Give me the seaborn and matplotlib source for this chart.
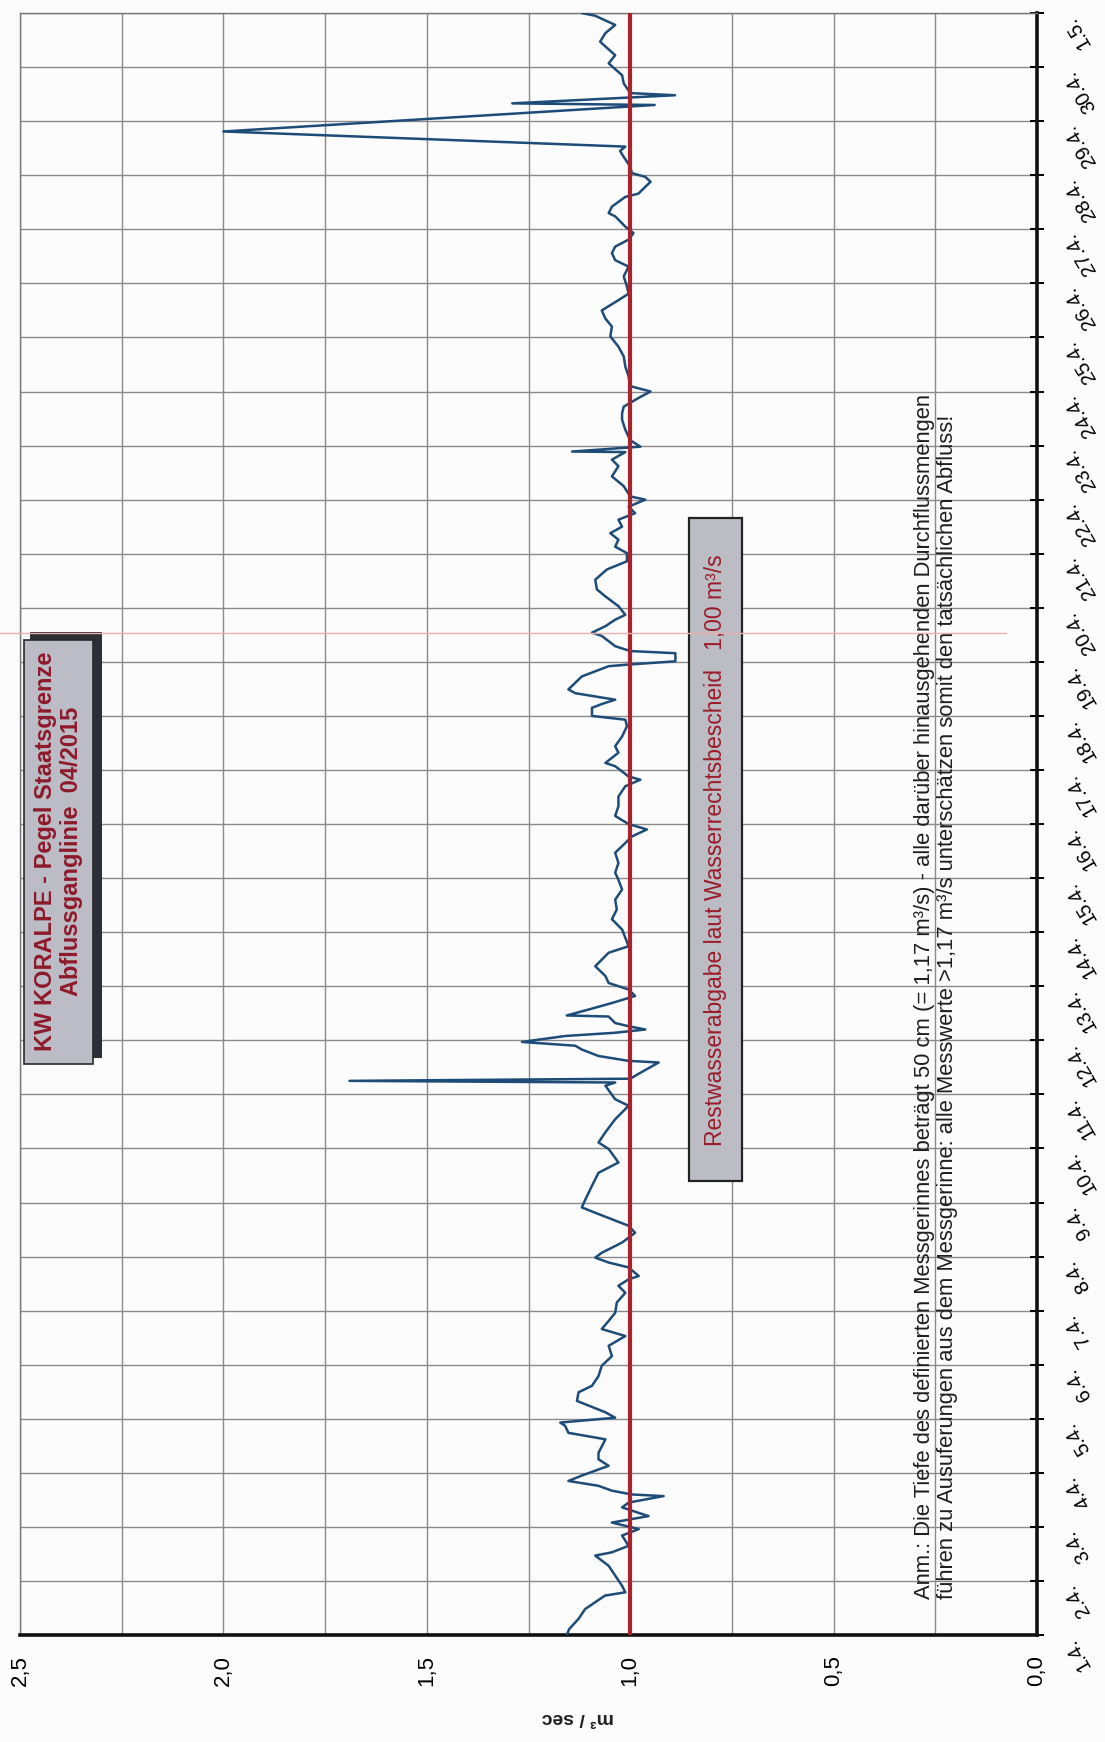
import matplotlib
matplotlib.use("Agg")
import matplotlib.pyplot as plt
import seaborn as sns
import pandas as pd
import numpy as np
from matplotlib.patches import Rectangle
from matplotlib.lines import Line2D

# ---------------- data ----------------
day_offsets = [
    0.00, 0.11, 0.30, 0.48, 0.73, 0.79, 0.91, 1.10, 1.28, 1.47, 1.53, 1.65, 1.84, 1.96,
    2.08, 2.20, 2.36, 2.45, 2.57, 2.60, 2.67, 2.76, 2.85, 2.95, 3.13, 3.25, 3.37, 3.62,
    3.74, 3.87, 3.93, 4.02, 4.12, 4.33, 4.49, 4.61, 4.79, 4.98, 5.16, 5.35, 5.53, 5.66,
    5.81, 5.96, 6.15, 6.33, 6.46, 6.58, 6.64, 6.80, 6.89, 6.98, 7.07, 7.26, 7.44, 7.57,
    7.81, 7.91, 8.06, 8.31, 8.55, 8.74, 8.99, 9.11, 9.30, 9.54, 9.79, 9.91, 10.16, 10.22,
    10.25, 10.29, 10.40, 10.59, 10.62, 10.71, 10.83, 10.90, 10.97, 11.08, 11.14, 11.20,
    11.26, 11.32, 11.44, 11.46, 11.57, 11.69, 11.82, 11.94, 12.06, 12.19, 12.37, 12.62,
    12.74, 13.05, 13.24, 13.42, 13.60, 13.79, 13.97, 14.10, 14.28, 14.47, 14.65, 14.77,
    14.90, 15.00, 15.15, 15.33, 15.51, 15.70, 15.82, 15.88, 16.07, 16.13, 16.32, 16.44,
    16.62, 16.81, 16.93, 17.00, 17.15, 17.22, 17.30, 17.42, 17.49, 17.73, 17.92, 17.95,
    18.01, 18.16, 18.20, 18.29, 18.48, 18.54, 18.66, 18.78, 18.87, 19.03, 19.21, 19.34,
    19.52, 19.71, 19.86, 20.01, 20.13, 20.26, 20.38, 20.50, 20.63, 20.75, 20.87, 21.00,
    21.06, 21.25, 21.43, 21.62, 21.74, 21.88, 21.89, 21.98, 22.10, 22.29, 22.48, 22.60,
    22.72, 22.88, 23.00, 23.10, 23.28, 23.46, 23.65, 23.83, 24.02, 24.20, 24.35, 24.50,
    24.69, 24.81, 24.94, 25.13, 25.31, 25.43, 25.56, 25.68, 25.81, 25.93, 26.05, 26.24,
    26.30, 26.42, 26.60, 26.66, 26.88, 26.97, 27.04, 27.16, 27.34, 27.45, 27.53, 27.81,
    28.30, 28.33, 28.48, 28.52, 28.70, 28.85, 29.07, 29.22, 29.47, 29.63, 29.78, 29.95,
    30.00,
]
flow_m3s = [
    1.156, 1.150, 1.127, 1.111, 1.062, 1.012, 1.020, 1.037, 1.053, 1.086, 1.045, 1.004, 1.020, 0.979,
    1.045, 0.955, 1.020, 1.004, 0.918, 0.996, 1.045, 1.078, 1.152, 1.119, 1.053, 1.078, 1.078, 1.061,
    1.152, 1.160, 1.172, 1.037, 1.061, 1.131, 1.127, 1.094, 1.078, 1.070, 1.045, 1.053, 1.012, 1.070,
    1.053, 1.037, 1.033, 1.012, 1.029, 1.004, 0.979, 1.004, 1.053, 1.086, 1.070, 1.020, 0.988, 1.004,
    1.086, 1.119, 1.110, 1.094, 1.078, 1.029, 1.053, 1.078, 1.061, 1.037, 1.004, 1.037, 1.061, 1.037,
    1.690, 1.000, 0.975, 0.930, 1.004, 1.078, 1.119, 1.135, 1.266, 1.160, 1.037, 0.963,
    1.004, 1.037, 1.053, 1.156, 1.102, 1.045, 0.988, 1.004, 1.053, 1.061, 1.086, 1.053,
    1.004, 1.020, 1.045, 1.033, 1.037, 1.020, 1.029, 1.037, 1.029, 1.037, 1.012, 0.996,
    0.959, 1.004, 1.037, 1.029, 1.029, 1.012, 0.975, 1.004, 1.037, 1.061, 1.029, 1.037,
    1.020, 1.008, 1.012, 1.094, 1.094, 1.070, 1.037, 1.135, 1.152, 1.119, 1.053, 1.004,
    0.889, 0.889, 1.000, 1.037, 1.070, 1.094, 1.061, 1.037, 1.012, 1.029, 1.061, 1.082,
    1.086, 1.057, 1.008, 1.008, 1.037, 1.029, 1.049, 1.020, 1.029, 0.988, 1.004, 0.963,
    1.000, 1.016, 1.045, 1.029, 1.045, 1.012, 1.143, 0.975, 1.000, 1.012, 1.020, 1.020,
    1.016, 0.980, 0.950, 1.000, 1.004, 1.012, 1.016, 1.029, 1.049, 1.045, 1.061, 1.070,
    1.029, 1.004, 1.008, 1.016, 1.004, 1.037, 1.045, 1.037, 1.004, 0.992, 1.012, 1.037,
    1.053, 1.045, 1.012, 0.980, 0.950, 0.963, 0.996, 1.000, 1.016, 1.025, 1.012, 2.000,
    0.940, 1.290, 0.890, 1.000, 1.016, 1.020, 1.053, 1.037, 1.074, 1.061, 1.037, 1.086,
    1.119,
]
date_ticks = list(range(31))
date_labels = ["1.4.", "2.4.", "3.4.", "4.4.", "5.4.", "6.4.", "7.4.", "8.4.", "9.4.", "10.4.",
               "11.4.", "12.4.", "13.4.", "14.4.", "15.4.", "16.4.", "17.4.", "18.4.", "19.4.",
               "20.4.", "21.4.", "22.4.", "23.4.", "24.4.", "25.4.", "26.4.", "27.4.", "28.4.",
               "29.4.", "30.4.", "1.5."]
value_ticks = [0.0, 0.25, 0.5, 0.75, 1.0, 1.25, 1.5, 1.75, 2.0, 2.25, 2.5]
value_labels = ["0,0", "", "0,5", "", "1,0", "", "1,5", "", "2,0", "", "2,5"]
residual_flow = 1.0

title_text = "KW KORALPE - Pegel Staatsgrenze\nAbflussganglinie  04/2015"
residual_text = "Restwasserabgabe laut Wasserrechtsbescheid   1,00 m³/s"
note_text = ("Anm.: Die Tiefe des definierten Messgerinnes beträgt 50 cm (= 1,17 m³/s) - alle darüber hinausgehenden Durchflussmengen\n"
             "führen zu Ausuferungen aus dem Messgerinne: alle Messwerte >1,17 m³/s unterschätzen somit den tatsächlichen Abfluss!")

# ---------------- style ----------------
sns.set_style("white")
plt.rcParams["font.family"] = ["Liberation Sans", "DejaVu Sans"]

fig = plt.figure(figsize=(11.05, 17.42), dpi=100)
fig.patch.set_facecolor("#fcfcfc")
ax = fig.add_axes([0.0181, 0.0614, 0.9204, 0.9311])
ax.set_facecolor("#fcfcfc")

df = pd.DataFrame({"day": day_offsets, "flow": flow_m3s})
sns.lineplot(data=df, x="flow", y="day", sort=False, estimator=None,
             color="#1d4c78", linewidth=1.8, ax=ax, zorder=4)
ax.axvline(residual_flow, color="#a8232c", linewidth=3.0, zorder=5)

ax.set_xlim(2.5, 0.0)
ax.set_ylim(0, 30)
ax.set_xlabel("")
ax.set_ylabel("")

ax.set_xticks(value_ticks)
ax.set_xticklabels(value_labels)
ax.yaxis.tick_right()
ax.set_yticks(date_ticks)
ax.set_yticklabels(date_labels)

ax.grid(True, color="#8a8a8a", linewidth=1.0, zorder=0)
ax.tick_params(axis="x", direction="inout", length=9, width=1.4, colors="black",
               labelrotation=90, labelsize=16, pad=10)
ax.tick_params(axis="y", direction="inout", length=10, width=1.4, colors="black",
               labelsize=14.5, pad=12, left=False, right=True)
for lbl in ax.get_yticklabels():
    lbl.set_rotation(120)
    lbl.set_ha("left")
    lbl.set_va("top")

for side in ["bottom", "right"]:
    ax.spines[side].set_color("#111111")
    ax.spines[side].set_linewidth(2.6)
for side in ["top", "left"]:
    ax.spines[side].set_color("#777777")
    ax.spines[side].set_linewidth(1.0)

ax.text(0.548, -0.051, "m³ / sec", transform=ax.transAxes, rotation=180,
        ha="center", va="center", fontsize=14, fontweight="bold", color="#222222")

# title box with shadow
ax.add_patch(Rectangle((0.0098, 0.356), 0.0708, 0.2626, transform=ax.transAxes,
                       facecolor="#2c2f36", edgecolor="none", zorder=6, clip_on=False))
ax.add_patch(Rectangle((0.004, 0.352), 0.0677, 0.2617, transform=ax.transAxes,
                       facecolor="#bcbcc6", edgecolor="#2a2a2a", linewidth=1.2, zorder=7, clip_on=False))
ax.text(0.038, 0.483, title_text, transform=ax.transAxes, rotation=90,
        ha="center", va="center", multialignment="center", fontsize=17,
        fontweight="heavy", color="#8e1a2b", linespacing=1.15, zorder=8)

# residual-flow box
ax.add_patch(Rectangle((0.658, 0.2797), 0.052, 0.4091, transform=ax.transAxes,
                       facecolor="#bcbcc4", edgecolor="#222222", linewidth=1.6, zorder=7))
ax.text(0.684, 0.484, residual_text, transform=ax.transAxes, rotation=90,
        ha="center", va="center", fontsize=16.5, color="#9b1b2a", zorder=8)

# annotation
ax.text(0.9007, 0.022, note_text, transform=ax.transAxes, rotation=90,
        rotation_mode="anchor", ha="left", va="center", multialignment="left",
        fontsize=15.8, color="#1e1e1e", linespacing=1.1, zorder=8)

# faint scan mark line
fig.add_artist(Line2D([0.0, 0.91], [0.6366, 0.6366], transform=fig.transFigure,
                      color="#eab0b0", linewidth=1.0, zorder=1))

fig.savefig("out.png", dpi=100, facecolor=fig.get_facecolor())
